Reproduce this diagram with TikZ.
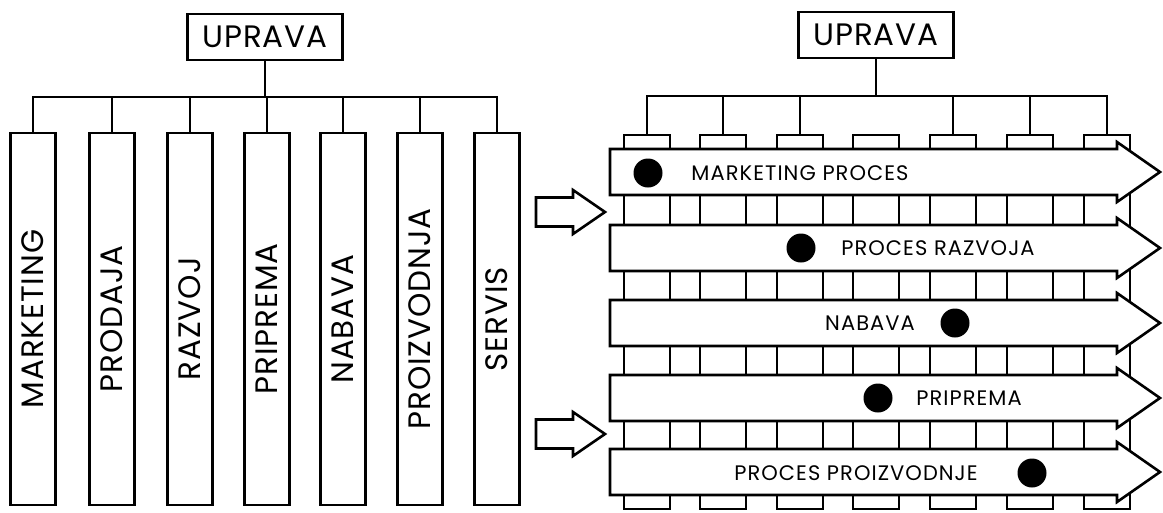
\documentclass[tikz,border=0pt]{standalone}
\usepackage{fontspec}
\setmainfont{Poppins}
\newfontfamily\upravafont[LetterSpace=3]{Poppins}
\newfontfamily\odjelfont[LetterSpace=3]{Poppins}
\newfontfamily\procesfont[LetterSpace=5]{Poppins}
\usepackage{graphicx}
\colorlet{LineColor}{black}
\colorlet{ArrowFill}{white}

\tikzset{
  uprava/.style={draw=LineColor, line width=2.6pt, inner sep=0pt,
    minimum width=155pt, minimum height=46pt,
    font=\upravafont\fontsize{31}{31}\selectfont},
  odjel/.style={draw=LineColor, line width=2.6pt, inner sep=0pt,
    minimum width=45pt, minimum height=372pt,
    font=\odjelfont\fontsize{31}{31}\selectfont},
  stupac/.style={draw=LineColor, line width=2.6pt, inner sep=0pt,
    minimum width=46pt, minimum height=374pt},
  veza/.style={LineColor, line width=2.6pt},
  strelica/.style={draw=LineColor, fill=ArrowFill, line width=2.6pt, line join=miter},
  proces/.style={inner sep=0pt, font=\procesfont\fontsize{21}{21}\selectfont},
  tocka/.style={circle, fill=LineColor, inner sep=0pt, minimum size=29pt},
}

\begin{document}
\begin{tikzpicture}[x=1pt, y=-1pt]

\useasboundingbox (0,0) rectangle (1163,512);

% Organizacija po funkcijama
\node[uprava] (uprL) at (265,37) {UPRAVA};
\coordinate (busL) at (265,97);

\node[odjel] (mkt) at (33,319)  {\rotatebox{90}{MARKETING}};
\node[odjel] (prd) at (112,319) {\rotatebox{90}{PRODAJA}};
\node[odjel] (raz) at (190,319) {\rotatebox{90}{RAZVOJ}};
\node[odjel] (pri) at (267,319) {\rotatebox{90}{PRIPREMA}};
\node[odjel] (nab) at (343,319) {\rotatebox{90}{NABAVA}};
\node[odjel] (pro) at (420,319) {\rotatebox{90}{PROIZVODNJA}};
\node[odjel] (ser) at (497,319) {\rotatebox{90}{SERVIS}};

\draw[veza] (uprL.south) -- (busL);
\draw[veza] (mkt.north) |- (busL) -| (ser.north);
\draw[veza] (prd.north) -- (prd.north |- busL);
\draw[veza] (raz.north) -- (raz.north |- busL);
\draw[veza] (pri.north) -- (pri.north |- busL);
\draw[veza] (nab.north) -- (nab.north |- busL);
\draw[veza] (pro.north) -- (pro.north |- busL);

% Prijelaz
\draw[strelica] (536,197.5) -- (573,197.5) -- (573,190) -- (605,212)
  -- (573,234) -- (573,226.5) -- (536,226.5) -- cycle;
\draw[strelica] (536,419.5) -- (573,419.5) -- (573,412) -- (605,434)
  -- (573,456) -- (573,448.5) -- (536,448.5) -- cycle;

% Organizacija po procesima
\node[uprava] (uprR) at (876,35) {UPRAVA};
\coordinate (busR) at (876,96);

\node[stupac] (s1) at (647,322)  {};
\node[stupac] (s2) at (723,322)  {};
\node[stupac] (s3) at (800,322)  {};
\node[stupac] (s4) at (876,322)  {};
\node[stupac] (s5) at (953,322)  {};
\node[stupac] (s6) at (1030,322) {};
\node[stupac] (s7) at (1107,322) {};

\draw[veza] (uprR.south) -- (busR);
\draw[veza] (s1.north) |- (busR) -| (s7.north);
\draw[veza] (s2.north) -- (s2.north |- busR);
\draw[veza] (s3.north) -- (s3.north |- busR);
\draw[veza] (s5.north) -- (s5.north |- busR);
\draw[veza] (s6.north) -- (s6.north |- busR);

% Procesi, dibujados encima de los stupci
\draw[strelica, shift={(0,172)}] (610,-23) -- (1117,-23) -- (1117,-30) -- (1160,0)
  -- (1117,30) -- (1117,23) -- (610,23) -- cycle;
\draw[strelica, shift={(0,248)}] (610,-23) -- (1117,-23) -- (1117,-30) -- (1160,0)
  -- (1117,30) -- (1117,23) -- (610,23) -- cycle;
\draw[strelica, shift={(0,323)}] (610,-23) -- (1117,-23) -- (1117,-30) -- (1160,0)
  -- (1117,30) -- (1117,23) -- (610,23) -- cycle;
\draw[strelica, shift={(0,398)}] (610,-23) -- (1117,-23) -- (1117,-30) -- (1160,0)
  -- (1117,30) -- (1117,23) -- (610,23) -- cycle;
\draw[strelica, shift={(0,472)}] (610,-23) -- (1117,-23) -- (1117,-30) -- (1160,0)
  -- (1117,30) -- (1117,23) -- (610,23) -- cycle;

\node[tocka] (t1) at (648,173)  {};
\node[tocka] (t2) at (801,248)  {};
\node[tocka] (t3) at (955,323)  {};
\node[tocka] (t4) at (878,398)  {};
\node[tocka] (t5) at (1032,473) {};

\node[proces] (p1) at (800,173) {MARKETING PROCES};
\node[proces] (p2) at (938,248) {PROCES RAZVOJA};
\node[proces] (p3) at (870,323) {NABAVA};
\node[proces] (p4) at (969,398) {PRIPREMA};
\node[proces] (p5) at (856,473) {PROCES PROIZVODNJE};

\end{tikzpicture}
\end{document}
